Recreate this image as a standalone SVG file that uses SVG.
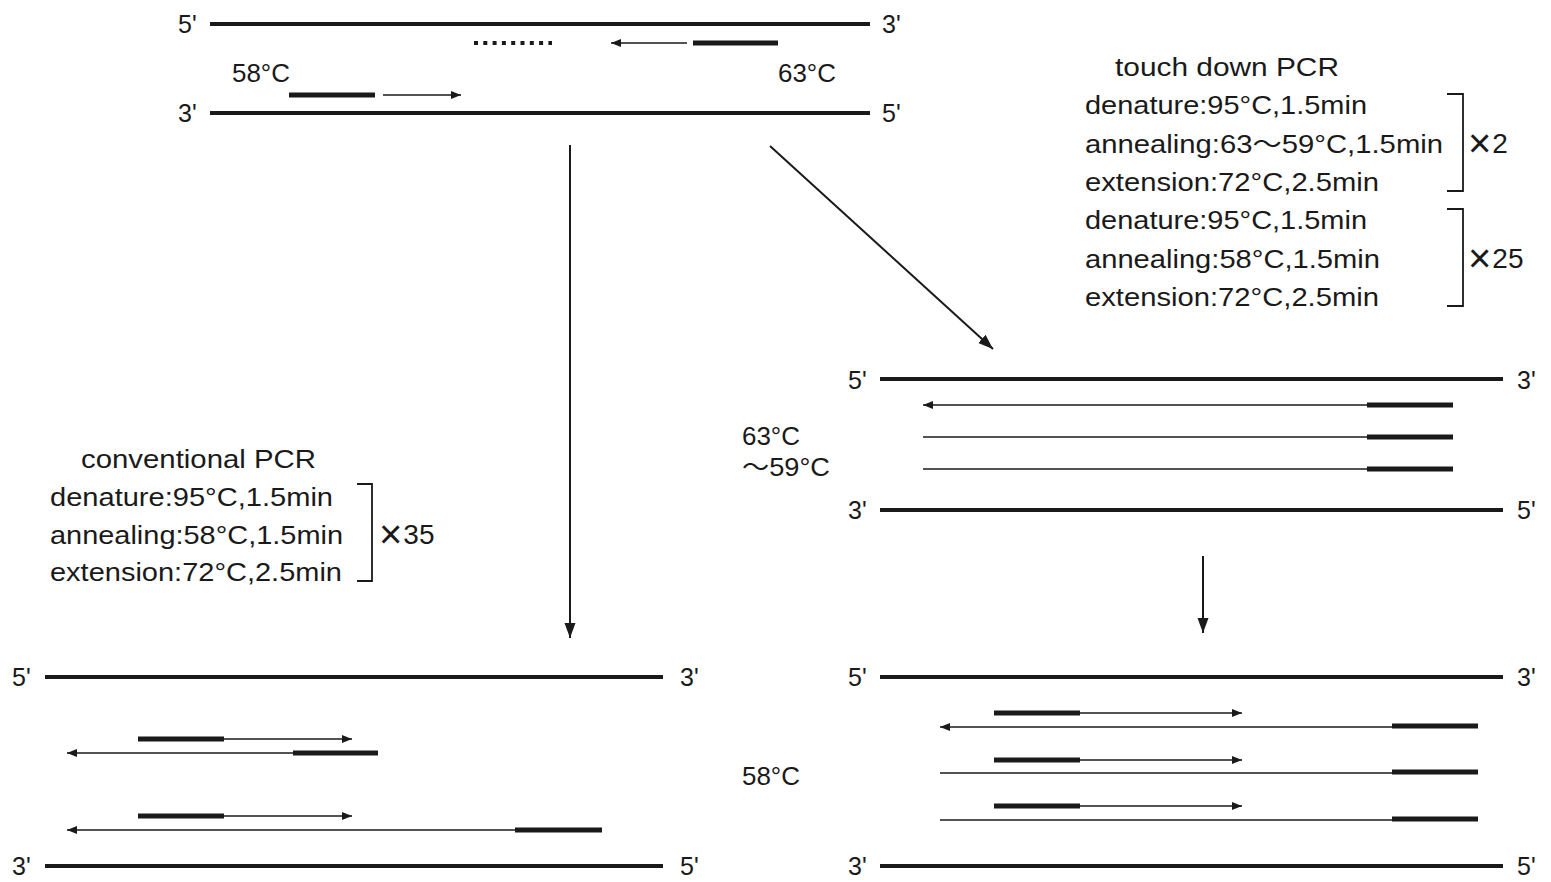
<svg xmlns="http://www.w3.org/2000/svg" width="1551" height="882" viewBox="0 0 1551 882">
  <style>
    text { font-family: "Liberation Sans", "Noto Sans CJK JP", sans-serif; font-size: 25px; fill: #1a1a1a; }
    .times { font-size: 40px; }
    .num { font-size: 28px; }
    .strand { stroke: #1a1a1a; stroke-width: 4; fill: none; }
    .primer { stroke: #1a1a1a; stroke-width: 5; fill: none; }
    .ext { stroke: #1a1a1a; stroke-width: 1.6; fill: none; }
    .ext-arrow { stroke: #1a1a1a; stroke-width: 1.6; fill: none; marker-end: url(#tip); }
    .flow { stroke: #1a1a1a; stroke-width: 2; fill: none; marker-end: url(#flowTip); }
    .bracket { stroke: #1a1a1a; stroke-width: 1.8; fill: none; }
    .dots { stroke: #1a1a1a; stroke-width: 4; stroke-dasharray: 4 5.3; fill: none; }
  </style>
  <defs>
    <marker id="tip" markerUnits="userSpaceOnUse" markerWidth="11" markerHeight="9" refX="10" refY="4" orient="auto">
      <path d="M0,0 L10,4 L0,8 z" fill="#1a1a1a"/>
    </marker>
    <marker id="flowTip" markerUnits="userSpaceOnUse" markerWidth="16" markerHeight="12" refX="15" refY="5.5" orient="auto">
      <path d="M0,0 L15,5.5 L0,11 z" fill="#1a1a1a"/>
    </marker>
  </defs>
  <rect width="1551" height="882" fill="#ffffff"/>

  <!-- template with both primers -->
  <g id="template">
    <text x="178" y="33">5'</text>
    <line class="strand" x1="210" y1="24" x2="870" y2="24"/>
    <text x="882" y="33">3'</text>
    <line class="dots" x1="474" y1="43" x2="552" y2="43"/>
    <line class="ext-arrow" x1="687" y1="43" x2="611" y2="43"/>
    <line class="primer" x1="693" y1="43" x2="778" y2="43"/>
    <text x="232" y="82" textLength="58" lengthAdjust="spacingAndGlyphs">58°C</text>
    <text x="778" y="82" textLength="58" lengthAdjust="spacingAndGlyphs">63°C</text>
    <line class="primer" x1="289" y1="95" x2="375" y2="95"/>
    <line class="ext-arrow" x1="383" y1="95" x2="461" y2="95"/>
    <text x="178" y="122">3'</text>
    <line class="strand" x1="210" y1="113" x2="870" y2="113"/>
    <text x="882" y="122">5'</text>
  </g>

  <!-- touch down program -->
  <g id="touchdown-program">
    <text x="1115" y="76" textLength="224" lengthAdjust="spacingAndGlyphs">touch down PCR</text>
    <text x="1085" y="114" textLength="282" lengthAdjust="spacingAndGlyphs">denature:95°C,1.5min</text>
    <text x="1085" y="153" textLength="358" lengthAdjust="spacingAndGlyphs">annealing:63〜59°C,1.5min</text>
    <text x="1085" y="191" textLength="294" lengthAdjust="spacingAndGlyphs">extension:72°C,2.5min</text>
    <text x="1085" y="229" textLength="282" lengthAdjust="spacingAndGlyphs">denature:95°C,1.5min</text>
    <text x="1085" y="268" textLength="295" lengthAdjust="spacingAndGlyphs">annealing:58°C,1.5min</text>
    <text x="1085" y="306" textLength="294" lengthAdjust="spacingAndGlyphs">extension:72°C,2.5min</text>
    <path class="bracket" d="M1447,94 H1463 V191 H1447"/>
    <text x="1468" y="153"><tspan class="times" dy="4">×</tspan><tspan class="num" dx="1" dy="-4">2</tspan></text>
    <path class="bracket" d="M1447,209 H1463 V306 H1447"/>
    <text x="1468" y="268"><tspan class="times" dy="4">×</tspan><tspan class="num" dx="1" dy="-4">25</tspan></text>
  </g>

  <!-- conventional program -->
  <g id="conventional-program">
    <text x="81" y="468" textLength="235" lengthAdjust="spacingAndGlyphs">conventional PCR</text>
    <text x="50" y="506" textLength="283" lengthAdjust="spacingAndGlyphs">denature:95°C,1.5min</text>
    <text x="50" y="544" textLength="293" lengthAdjust="spacingAndGlyphs">annealing:58°C,1.5min</text>
    <text x="50" y="581" textLength="292" lengthAdjust="spacingAndGlyphs">extension:72°C,2.5min</text>
    <path class="bracket" d="M357,484 H372 V581 H357"/>
    <text x="379" y="544"><tspan class="times" dy="4">×</tspan><tspan class="num" dx="1" dy="-4">35</tspan></text>
  </g>

  <!-- touch down, high annealing stage -->
  <g id="touchdown-high">
    <text x="848" y="389">5'</text>
    <line class="strand" x1="880" y1="379" x2="1503" y2="379"/>
    <text x="1517" y="389">3'</text>
    <line class="ext-arrow" x1="1367" y1="405" x2="923" y2="405"/>
    <line class="primer" x1="1367" y1="405" x2="1453" y2="405"/>
    <line class="ext" x1="923" y1="437" x2="1367" y2="437"/>
    <line class="primer" x1="1367" y1="437" x2="1453" y2="437"/>
    <line class="ext" x1="923" y1="469" x2="1367" y2="469"/>
    <line class="primer" x1="1367" y1="469" x2="1453" y2="469"/>
    <text x="742" y="445" textLength="58" lengthAdjust="spacingAndGlyphs">63°C</text>
    <text x="742" y="476" textLength="88" lengthAdjust="spacingAndGlyphs">〜59°C</text>
    <text x="848" y="519">3'</text>
    <line class="strand" x1="880" y1="510" x2="1503" y2="510"/>
    <text x="1517" y="519">5'</text>
  </g>

  <!-- touch down, 58°C stage -->
  <g id="touchdown-low">
    <text x="848" y="686">5'</text>
    <line class="strand" x1="880" y1="677" x2="1503" y2="677"/>
    <text x="1517" y="686">3'</text>
    <line class="primer" x1="994" y1="713" x2="1080" y2="713"/>
    <line class="ext-arrow" x1="1080" y1="713" x2="1242" y2="713"/>
    <line class="ext-arrow" x1="1392" y1="727" x2="940" y2="727"/>
    <line class="primer" x1="1392" y1="726" x2="1478" y2="726"/>
    <line class="primer" x1="994" y1="760" x2="1080" y2="760"/>
    <line class="ext-arrow" x1="1080" y1="760" x2="1242" y2="760"/>
    <line class="ext" x1="940" y1="773" x2="1392" y2="773"/>
    <line class="primer" x1="1392" y1="772" x2="1478" y2="772"/>
    <line class="primer" x1="994" y1="806" x2="1080" y2="806"/>
    <line class="ext-arrow" x1="1080" y1="806" x2="1242" y2="806"/>
    <line class="ext" x1="940" y1="820" x2="1392" y2="820"/>
    <line class="primer" x1="1392" y1="819" x2="1478" y2="819"/>
    <text x="742" y="785" textLength="58" lengthAdjust="spacingAndGlyphs">58°C</text>
    <text x="848" y="875">3'</text>
    <line class="strand" x1="880" y1="866" x2="1503" y2="866"/>
    <text x="1517" y="875">5'</text>
  </g>

  <!-- conventional result -->
  <g id="conventional-result">
    <text x="12" y="686">5'</text>
    <line class="strand" x1="45" y1="677" x2="663" y2="677"/>
    <text x="680" y="686">3'</text>
    <line class="primer" x1="138" y1="739" x2="224" y2="739"/>
    <line class="ext-arrow" x1="224" y1="739" x2="352" y2="739"/>
    <line class="ext-arrow" x1="293" y1="753" x2="67" y2="753"/>
    <line class="primer" x1="293" y1="753" x2="378" y2="753"/>
    <line class="primer" x1="138" y1="816" x2="224" y2="816"/>
    <line class="ext-arrow" x1="224" y1="816" x2="352" y2="816"/>
    <line class="ext-arrow" x1="515" y1="830" x2="67" y2="830"/>
    <line class="primer" x1="515" y1="830" x2="602" y2="830"/>
    <text x="12" y="875">3'</text>
    <line class="strand" x1="45" y1="866" x2="663" y2="866"/>
    <text x="680" y="875">5'</text>
  </g>

  <!-- process arrows -->
  <g id="connectors">
    <line class="flow" x1="570" y1="145" x2="570" y2="638"/>
    <line class="flow" x1="770" y1="146" x2="993" y2="349"/>
    <line class="flow" x1="1203" y1="556" x2="1203" y2="633"/>
  </g>
</svg>
